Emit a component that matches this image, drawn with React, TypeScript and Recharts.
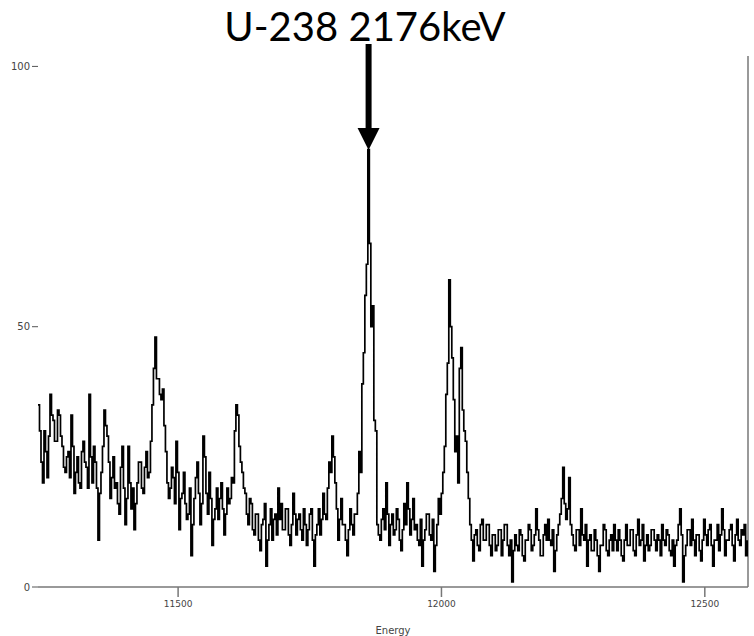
import React from "react";
import { LineChart, Line, XAxis, YAxis, ReferenceLine, ReferenceDot } from "recharts";

// Spectrum bins: start energy and bin width (channel calibration)
const energyStart = 11234;
const binWidth = 2.8465;
const energyMax = 12582;

// Counts per bin
const counts: number[] = [
  35, 30, 24, 20, 30, 26, 21, 29, 37, 33, 32, 28, 28, 34, 33, 29, 27, 23, 22, 25,
  26, 21, 33, 27, 18, 22, 25, 20, 19, 26, 28, 24, 23, 19, 37, 25, 20, 27, 24, 19,
  9, 18, 22, 27, 34, 31, 29, 24, 17, 21, 25, 19, 20, 16, 14, 23, 27, 19, 12, 17,
  27, 20, 15, 19, 11, 16, 20, 24, 24, 19, 18, 23, 26, 21, 22, 28, 35, 42, 48, 40,
  40, 37, 36, 38, 31, 26, 20, 17, 19, 23, 21, 16, 28, 22, 11, 17, 18, 22, 16, 13,
  14, 19, 6, 12, 17, 21, 24, 18, 12, 16, 29, 25, 18, 14, 22, 17, 8, 13, 15, 19,
  13, 17, 20, 15, 10, 14, 19, 16, 17, 21, 20, 30, 35, 33, 27, 24, 22, 19, 18, 14,
  12, 17, 16, 11, 10, 14, 14, 9, 7, 12, 13, 16, 4, 9, 12, 15, 9, 13, 14, 10,
  19, 13, 16, 11, 11, 15, 15, 10, 8, 12, 18, 14, 10, 13, 14, 11, 9, 15, 12, 8,
  11, 14, 15, 9, 4, 10, 12, 15, 10, 13, 18, 14, 13, 19, 24, 22, 29, 25, 20, 15,
  9, 13, 17, 12, 12, 9, 6, 11, 15, 12, 10, 14, 14, 18, 26, 22, 39, 45, 56, 62,
  84, 66, 50, 54, 32, 30, 12, 10, 9, 13, 15, 11, 20, 14, 8, 12, 14, 10, 11, 15,
  13, 9, 7, 11, 16, 12, 20, 15, 10, 13, 17, 11, 12, 9, 8, 13, 4, 9, 11, 14,
  14, 10, 9, 13, 3, 8, 12, 17, 14, 18, 22, 27, 37, 43, 59, 50, 44, 36, 26, 29,
  20, 42, 46, 34, 30, 28, 22, 17, 12, 9, 5, 10, 11, 8, 7, 12, 13, 9, 9, 12,
  12, 8, 6, 10, 10, 7, 8, 11, 11, 6, 9, 12, 12, 8, 6, 9, 1, 7, 10, 8,
  7, 11, 10, 6, 5, 9, 9, 12, 11, 7, 8, 10, 15, 11, 9, 6, 6, 10, 12, 9,
  13, 9, 8, 11, 3, 7, 10, 12, 14, 17, 23, 16, 13, 15, 21, 12, 10, 8, 7, 11,
  11, 8, 15, 10, 9, 12, 4, 9, 10, 7, 7, 11, 9, 6, 3, 8, 8, 12, 11, 7,
  6, 9, 10, 7, 12, 9, 7, 11, 9, 6, 5, 9, 12, 8, 8, 11, 11, 7, 6, 10,
  13, 8, 9, 12, 5, 8, 10, 7, 8, 11, 11, 9, 7, 10, 9, 6, 12, 9, 8, 11,
  10, 7, 6, 9, 4, 8, 9, 12, 15, 10, 1, 6, 8, 11, 11, 8, 13, 9, 6, 10,
  10, 7, 5, 9, 13, 10, 8, 11, 12, 8, 4, 9, 9, 12, 7, 10, 15, 11, 6, 9,
  9, 11, 12, 8, 5, 10, 13, 9, 8, 11, 10, 12, 6, 9,
];

const xTicks = [11500, 12000, 12500];
const yTicks = [0, 50, 100];
const peakBin = 220;
const titleText = "U-238 2176keV";

const data = counts.map((c, i) => ({ energy: energyStart + i * binWidth, counts: c }));

const Arrow = (props: any) => {
  const { cx, cy } = props;
  if (cx == null || cy == null) return null;
  return (
    <g>
      <line x1={cx} y1={cy - 12} x2={cx} y2={cy + 74} stroke="#000" strokeWidth={6} />
      <polygon points={`${cx - 11},${cy + 72} ${cx + 11},${cy + 72} ${cx},${cy + 94}`} fill="#000" />
    </g>
  );
};

export default function App() {
  return (
    <div style={{ position: "absolute", left: 0, top: 0, width: 754, height: 636, background: "#fff" }}>
      <div
        style={{
          position: "absolute",
          left: 0,
          top: 0,
          width: 730,
          textAlign: "center",
          fontFamily: "Lato, 'Open Sans', sans-serif",
          fontSize: 40,
          lineHeight: "52px",
          color: "#000",
        }}
      >
        {titleText}
      </div>
      <LineChart
        width={754}
        height={636}
        data={data}
        margin={{ top: 56, right: 6, bottom: 0, left: 0 }}
      >
        <XAxis
          dataKey="energy"
          type="number"
          domain={[energyStart, energyMax]}
          ticks={xTicks}
          allowDataOverflow
          height={49}
          tickSize={10}
          tickMargin={4}
          stroke="#777"
          strokeWidth={1.5}
          tick={{ fontSize: 9, fill: "#444", fontFamily: "DejaVu Sans" }}
          label={{ value: "Energy", position: "insideBottom", offset: 2, fontSize: 10, fill: "#444", fontFamily: "DejaVu Sans" }}
        />
        <YAxis
          type="number"
          domain={[0, 102]}
          ticks={yTicks}
          width={38}
          axisLine={false}
          tickSize={6}
          tickMargin={2}
          stroke="#555"
          tick={{ fontSize: 10, fill: "#444", fontFamily: "DejaVu Sans" }}
        />
        <ReferenceLine x={energyMax} stroke="#777" strokeWidth={1.5} ifOverflow="visible" />
        <Line
          type="stepAfter"
          dataKey="counts"
          stroke="#000"
          strokeWidth={1.7}
          dot={false}
          isAnimationActive={false}
        />
        <ReferenceDot
          x={energyStart + (peakBin + 0.5) * binWidth}
          y={102}
          ifOverflow="visible"
          shape={Arrow}
        />
      </LineChart>
    </div>
  );
}
